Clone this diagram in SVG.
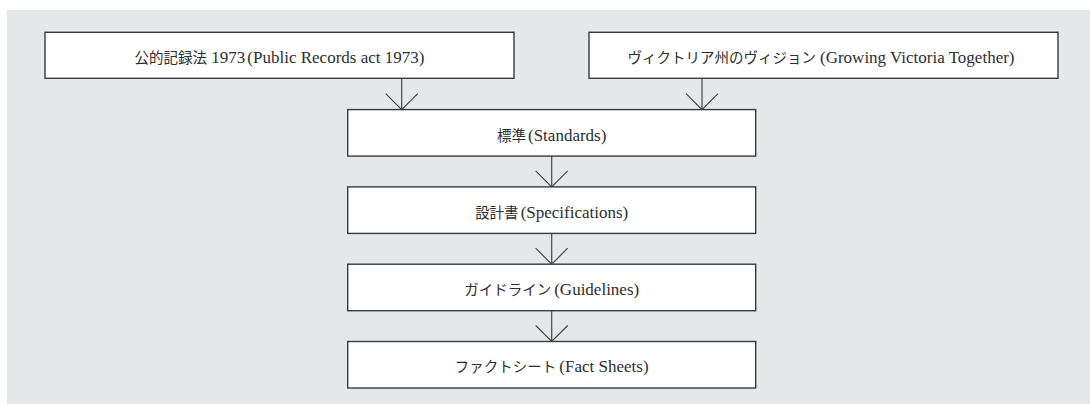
<svg xmlns="http://www.w3.org/2000/svg" width="1090" height="404" viewBox="0 0 1090 404">
  <style>
    .box { fill: #ffffff; stroke: #3a3a3a; stroke-width: 1.4; }
    .label { font-family: "Liberation Serif", "Noto Sans CJK JP", serif; font-size: 17px; fill: #2e2e2e; text-anchor: middle; }
    .jp { font-family: "Noto Sans CJK JP", sans-serif; font-size: 14.5px; }
    .conn { fill: none; stroke: #474747; stroke-width: 1.2; }
  </style>
  <rect width="1090" height="404" fill="#ffffff"/>
  <rect x="7" y="10" width="1083" height="394" fill="#e6e7e8"/>

  <g id="connectors">
    <path class="conn" d="M401.7 78.3 V109.6 M385.7 93.6 L401.7 109.6 L417.7 93.6"/>
    <path class="conn" d="M702 78.3 V109.6 M686 93.6 L702 109.6 L718 93.6"/>
    <path class="conn" d="M551.7 156.1 V186.9 M535.7 170.9 L551.7 186.9 L567.7 170.9"/>
    <path class="conn" d="M551.7 233.4 V264.2 M535.7 248.2 L551.7 264.2 L567.7 248.2"/>
    <path class="conn" d="M551.7 310.7 V341.5 M535.7 325.5 L551.7 341.5 L567.7 325.5"/>
  </g>

  <g id="public-records-act">
    <rect class="box" x="45" y="32.3" width="469" height="46"/>
    <text class="label" x="279.5" y="63"><tspan class="jp">公的記録法</tspan> 1973<tspan dx="2">(Public Records act 1973)</tspan></text>
  </g>
  <g id="growing-victoria">
    <rect class="box" x="589" y="32.3" width="469" height="46"/>
    <text class="label" x="821" y="63"><tspan class="jp">ヴィクトリア州のヴィジョン</tspan><tspan dx="4">(Growing Victoria Together)</tspan></text>
  </g>
  <g id="standards">
    <rect class="box" x="347.7" y="109.6" width="408" height="46.5"/>
    <text class="label" x="551.7" y="140.5"><tspan class="jp">標準</tspan><tspan dx="2">(Standards)</tspan></text>
  </g>
  <g id="specifications">
    <rect class="box" x="347.7" y="186.9" width="408" height="46.5"/>
    <text class="label" x="551.7" y="217.8"><tspan class="jp">設計書</tspan><tspan dx="2">(Specifications)</tspan></text>
  </g>
  <g id="guidelines">
    <rect class="box" x="347.7" y="264.2" width="408" height="46.5"/>
    <text class="label" x="551.7" y="295.1"><tspan class="jp">ガイドライン</tspan><tspan dx="3">(Guidelines)</tspan></text>
  </g>
  <g id="fact-sheets">
    <rect class="box" x="347.7" y="341.5" width="408" height="46.5"/>
    <text class="label" x="551.7" y="372.4"><tspan class="jp">ファクトシート</tspan><tspan dx="3">(Fact Sheets)</tspan></text>
  </g>
</svg>
